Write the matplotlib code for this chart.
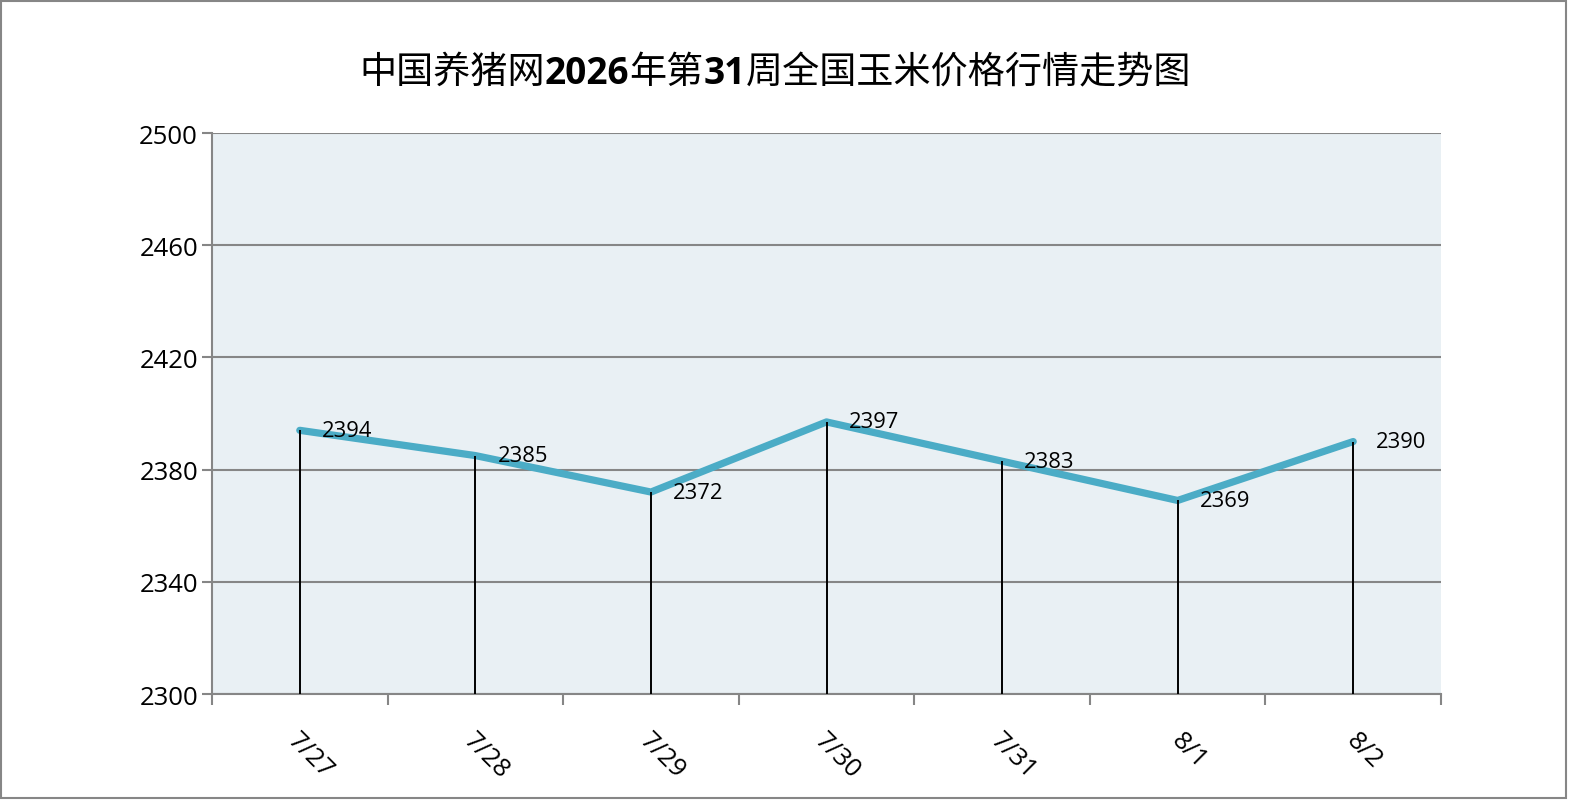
import matplotlib
matplotlib.use("Agg")
import matplotlib.pyplot as plt
import matplotlib.transforms as mtransforms
from matplotlib.patches import Rectangle

plt.rcParams['font.family'] = ['Open Sans', 'Noto Sans CJK SC', 'DejaVu Sans']

dates = ["7/27", "7/28", "7/29", "7/30", "7/31", "8/1", "8/2"]
prices = [2394, 2385, 2372, 2397, 2383, 2369, 2390]
y_ticks = [2300, 2340, 2380, 2420, 2460, 2500]
title_parts = [("中国养猪网", "normal"), ("2026", "bold"), ("年第", "normal"),
               ("31", "bold"), ("周全国玉米价格行情走势图", "normal")]

fig = plt.figure(figsize=(15.71, 8.03), dpi=100)
ax = fig.add_axes([212 / 1571, 108 / 803, 1229 / 1571, 561 / 803])

grey = "#868686"
x = list(range(len(dates)))

ax.set_facecolor("#e9f0f4")
ax.set_xlim(-0.5, len(dates) - 0.5)
ax.set_ylim(y_ticks[0], y_ticks[-1])
ax.set_yticks(y_ticks)
ax.yaxis.grid(True, color=grey, linewidth=1.5)
ax.set_axisbelow(True)

for s in ["top", "right"]:
    ax.spines[s].set_visible(False)
for s in ["left", "bottom"]:
    ax.spines[s].set_color(grey)
    ax.spines[s].set_linewidth(1.5)

ax.plot(x, prices, color="#4bacc6", linewidth=5.2, solid_capstyle="round", zorder=3)
ax.vlines(x, y_ticks[0], prices, color="black", linewidth=1.4, zorder=4)

for xi, v in zip(x, prices):
    ax.annotate(str(v), (xi, v), xytext=(16, 0), textcoords="offset points",
                ha="left", va="center", fontsize=15.8, zorder=5)

ax.tick_params(axis="y", labelsize=18.5, length=7, width=1.5, color=grey, pad=3)
ax.set_xticks(x)
ax.set_xticks([i - 0.5 for i in range(len(dates) + 1)], minor=True)
ax.tick_params(axis="x", which="major", length=0, pad=24)
ax.tick_params(axis="x", which="minor", length=8, width=1.5, color=grey)
ax.set_xticklabels(dates, fontsize=18.5, rotation=-45, ha="center")
shift = mtransforms.ScaledTranslation(11 / 100, 0, fig.dpi_scale_trans)
for lab in ax.get_xticklabels():
    lab.set_transform(lab.get_transform() + shift)

# title with bold digits, pieced together
renderer = fig.canvas.get_renderer()
texts = []
for s, w in title_parts:
    t = fig.text(0, 0, s, fontsize=26.7, fontweight=w, va="center", ha="left",
                 family=['Open Sans', 'Noto Sans CJK SC', 'DejaVu Sans'])
    texts.append(t)
widths = [t.get_window_extent(renderer).width for t in texts]
total = sum(widths)
xpos = 775 - total / 2
for t, wd in zip(texts, widths):
    t.set_position((xpos / 1571, 1 - 74 / 803))
    xpos += wd

fig.patches.append(Rectangle((1 / 1571, 4 / 803), 1565 / 1571, 797 / 803,
                             transform=fig.transFigure, fill=False,
                             edgecolor=grey, linewidth=1.5))

fig.savefig("out.png", dpi=100, facecolor="white")
